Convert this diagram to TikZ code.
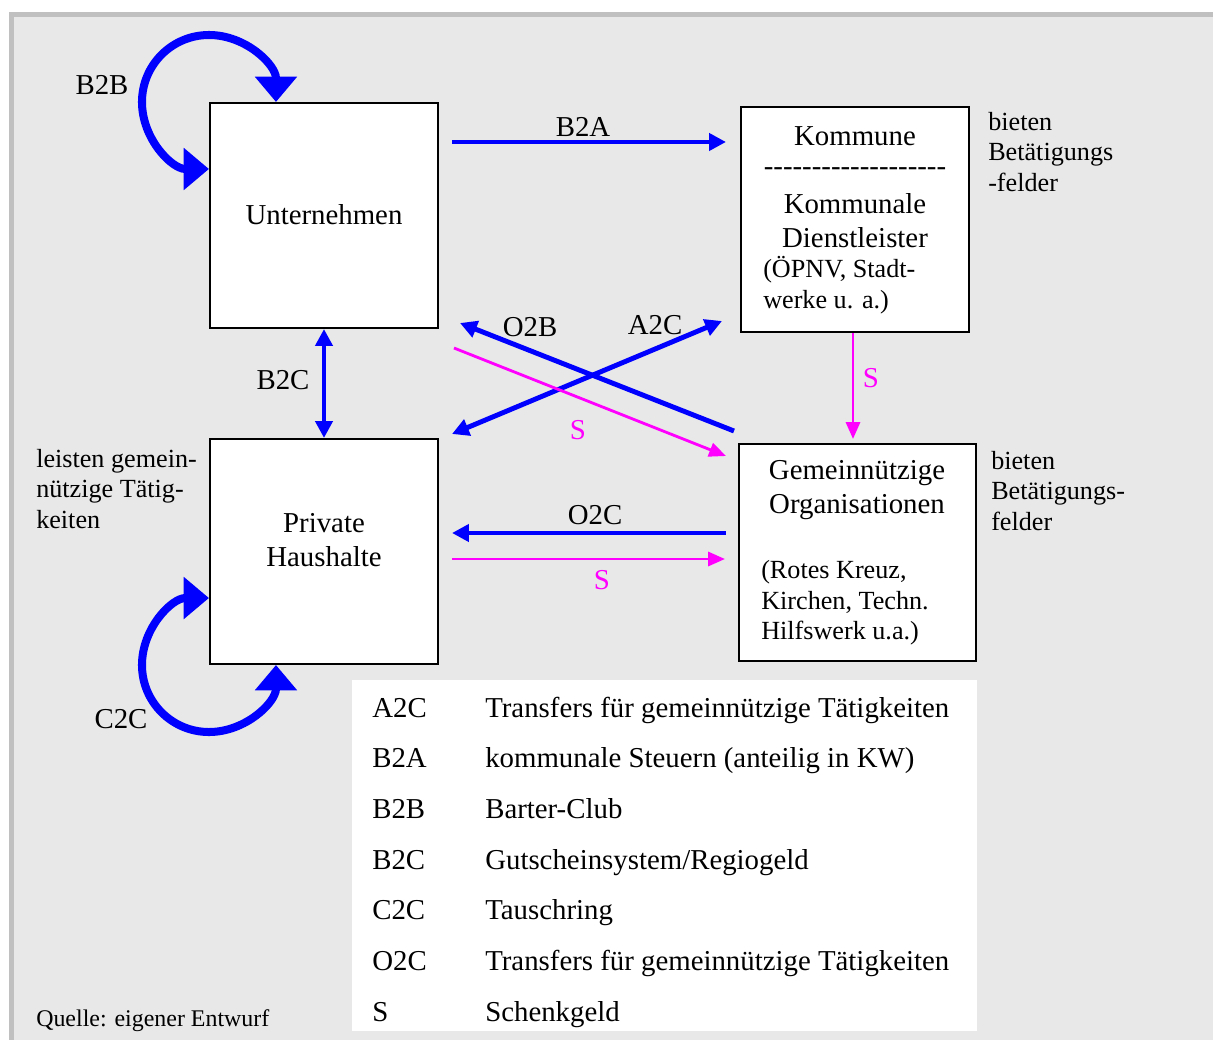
\documentclass[tikz,border=0pt]{standalone}
\usepackage{fontspec}
\setmainfont{Liberation Serif}
\usetikzlibrary{arrows.meta,calc}
\definecolor{framegray}{RGB}{192,192,192}
\definecolor{panelgray}{RGB}{232,232,232}
\definecolor{giftpink}{RGB}{255,0,255}
\definecolor{flowblue}{RGB}{0,0,255}
\newcommand{\boxfont}{\fontsize{20.5pt}{24pt}\selectfont}
\newcommand{\notefont}{\fontsize{18.6pt}{21.8pt}\selectfont}
\newcommand{\srcfont}{\fontsize{17pt}{20pt}\selectfont}
\newcommand{\dashrow}{\foreach \d in {1,...,19}{-\kern0pt}}
\tikzset{
  flowtip/.tip={Triangle[width=12pt,length=12pt]},
  gifttip/.tip={Triangle[width=10pt,length=12pt]},
  looptip/.tip={Triangle[width=29pt,length=18pt]},
}

\begin{document}
\begin{tikzpicture}[x=0.025cm, y=-0.025cm,
  box/.style={draw, line width=1.4pt, fill=white, inner sep=0pt,
    minimum width=5.7cm, minimum height=5.625cm},
  txt/.style={inner sep=0pt, font=\boxfont, align=center},
  note/.style={inner sep=0pt, font=\notefont, align=left, anchor=west},
  flow/.style={draw=flowblue, line width=3.5pt, -flowtip},
  twoway/.style={flow, flowtip-flowtip},
  gift/.style={draw=giftpink, line width=2pt, -gifttip},
  loopline/.style={draw=flowblue, line width=5.7pt, looptip-looptip},
  giftlabel/.style={txt, text=giftpink},
  legend/.style={txt, anchor=base west},
]
\useasboundingbox (0,0) rectangle (1213,1040);
% frame and legend panel
\fill[framegray] (9,12) rectangle (1213,1040);
\fill[panelgray] (14,17) rectangle (1213,1040);
\fill[white] (352,680) rectangle (977,1031);

% actors
\node[box] (unt) at (324,215.5) {};
\node[txt] (unt-text) at (324,215) {Unternehmen};
\node[box] (ph) at (324,551.5) {};
\node[txt] (ph-text) at (324,540) {Private\\Haushalte};
\node[box] (kom) at (855,219.5) {};
\node[txt] (kom-title) at (855,136) {Kommune};
\node[txt] (kom-dash) at (855,172) {\dashrow};
\node[txt] (kom-sub) at (855,221) {Kommunale\\Dienstleister};
\node[note] (kom-note) at (763,285) {(ÖPNV, Stadt-\\werke u. a.)};
\node[box, minimum width=5.925cm, minimum height=5.425cm] (org) at (857.5,552.5) {};
\node[txt] (org-title) at (857,490) {Gemeinnützige\\Organisationen};
\node[note] (org-note) at (761,603) {(Rotes Kreuz,\\Kirchen, Techn.\\Hilfswerk u.a.)};

% side notes
\node[note] (kom-side) at (988,152) {bieten\\Betätigungs\\-felder};
\node[note] (org-side) at (991,491) {bieten\\Betätigungs-\\felder};
\node[note] (ph-side) at (36,489) {leisten gemein-\\nützige Tätig-\\keiten};
\node[inner sep=0pt, font=\srcfont, anchor=west] (source) at (36,1021) {Quelle: eigener Entwurf};

% flows
\draw[flow] ($(unt.north east)+(13,40)$) -- ($(kom.north west)+(-14,36)$);
\draw[twoway] (unt.south) -- (ph.north);
\draw[flow] ($(org.north west)+(-4,-12)$) -- ($(unt.south east)+(21,-6)$);
\draw[twoway] ($(ph.north east)+(13,-4)$) -- ($(kom.south west)+(-18,-12)$);
\draw[gift] ($(unt.south east)+(15,19)$) -- ($(org.north west)+(-12,13)$);
\draw[gift] ($(kom.south)+(-2,0)$) -- ($(kom.south |- org.north)+(-2,-4)$);
\draw[flow] ($(org.west)+(-12,-19.5)$) -- ($(ph.east)+(13,-18.5)$);
\draw[gift] ($(ph.east)+(13,7.5)$) -- ($(org.west)+(-13,6.5)$);
\draw[loopline] ($(unt.north west)+(67,0)$) arc[start angle=0, end angle=-270, radius=67];
\draw[loopline] ($(ph.south west)+(0,-67)$) arc[start angle=-90, end angle=-360, radius=67];

% flow labels
\node[txt] (lbl-b2a) at (583,127) {B2A};
\node[txt] (lbl-b2c) at (283,380) {B2C};
\node[txt] (lbl-o2b) at (530,327) {O2B};
\node[txt] (lbl-a2c) at (655,325) {A2C};
\node[txt] (lbl-o2c) at (595,515) {O2C};
\node[txt] (lbl-b2b) at (102,85) {B2B};
\node[txt] (lbl-c2c) at (121,719) {C2C};
\node[giftlabel] (lbl-s1) at (578,430) {S};
\node[giftlabel] (lbl-s2) at (871,378) {S};
\node[giftlabel] (lbl-s3) at (602,580) {S};

% legend
\foreach \code/\desc [count=\i from 0] in {
  A2C/Transfers für gemeinnützige Tätigkeiten,
  B2A/kommunale Steuern (anteilig in KW),
  B2B/Barter-Club,
  B2C/{Gutscheinsystem/Regiogeld},
  C2C/Tauschring,
  O2C/Transfers für gemeinnützige Tätigkeiten,
  S/Schenkgeld} {
  \node[legend] (leg-code-\i) at (372,{717+50.67*\i}) {\code};
  \node[legend] (leg-desc-\i) at (485,{717+50.67*\i}) {\desc};
}
\end{tikzpicture}
\end{document}
